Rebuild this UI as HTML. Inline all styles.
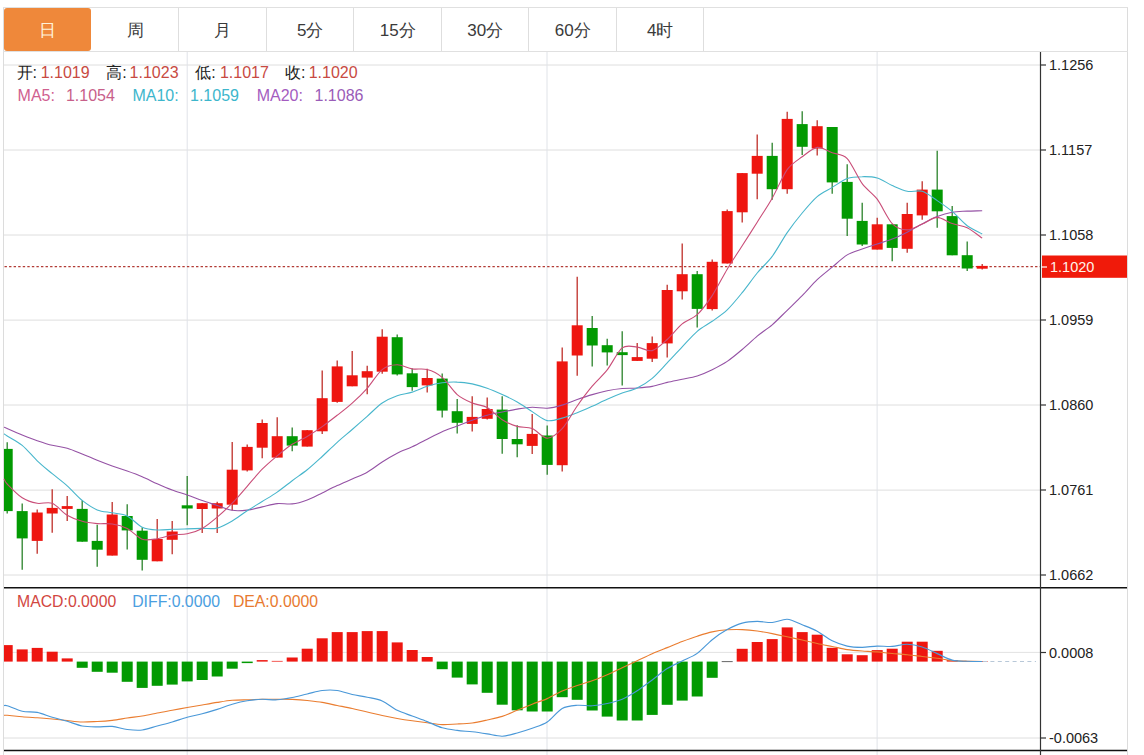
<!DOCTYPE html>
<html><head><meta charset="utf-8">
<style>
html,body{margin:0;padding:0;background:#fff;}
body{width:1144px;height:755px;position:relative;overflow:hidden;font-family:"Liberation Sans",sans-serif;}
.box{position:absolute;left:3.5px;top:7px;width:1124px;height:44px;border:1px solid #e0e0e0;box-sizing:border-box;}
.tab{position:absolute;top:9px;height:43px;line-height:43px;text-align:center;font-size:17px;color:#3a3a3a;}
.tab.act{color:#fff2d8;}
.sep{position:absolute;top:8px;width:1px;height:43px;background:#dedede;}
.vl{position:absolute;width:1px;background:#dcdcdc;}
.lg{position:absolute;font-size:16px;white-space:nowrap;line-height:16px;}
svg{position:absolute;left:0;top:0;}
</style></head><body>
<svg width="1144" height="755" viewBox="0 0 1144 755" font-family="Liberation Sans, sans-serif">
<line x1="703.5" y1="8" x2="703.5" y2="51" stroke="#dedede" stroke-width="1"/>
<line x1="616.5" y1="8" x2="616.5" y2="51" stroke="#dedede" stroke-width="1"/>
<line x1="528.5" y1="8" x2="528.5" y2="51" stroke="#dedede" stroke-width="1"/>
<line x1="441.5" y1="8" x2="441.5" y2="51" stroke="#dedede" stroke-width="1"/>
<line x1="353.5" y1="8" x2="353.5" y2="51" stroke="#dedede" stroke-width="1"/>
<line x1="266.5" y1="8" x2="266.5" y2="51" stroke="#dedede" stroke-width="1"/>
<line x1="178.5" y1="8" x2="178.5" y2="51" stroke="#dedede" stroke-width="1"/>
<rect x="4" y="8" width="87" height="43" rx="3" fill="#ef883a"/>
<line x1="1127.5" y1="7" x2="1127.5" y2="755" stroke="#dcdcdc" stroke-width="1"/>
<line x1="3.5" y1="7" x2="3.5" y2="755" stroke="#dcdcdc" stroke-width="1"/>
<line x1="3" y1="51.5" x2="1128" y2="51.5" stroke="#e0e0e0" stroke-width="1"/>
<line x1="3" y1="7.5" x2="1128" y2="7.5" stroke="#e0e0e0" stroke-width="1"/>
<line x1="4" y1="65" x2="1040" y2="65" stroke="#dedede" stroke-width="1"/>
<line x1="4" y1="150" x2="1040" y2="150" stroke="#dedede" stroke-width="1"/>
<line x1="4" y1="235" x2="1040" y2="235" stroke="#dedede" stroke-width="1"/>
<line x1="4" y1="320.1" x2="1040" y2="320.1" stroke="#dedede" stroke-width="1"/>
<line x1="4" y1="405" x2="1040" y2="405" stroke="#dedede" stroke-width="1"/>
<line x1="4" y1="490.1" x2="1040" y2="490.1" stroke="#dedede" stroke-width="1"/>
<line x1="4" y1="575" x2="1040" y2="575" stroke="#dedede" stroke-width="1"/>
<line x1="4" y1="738" x2="1040" y2="738" stroke="#dedede" stroke-width="1"/>
<line x1="4" y1="652.4" x2="1040" y2="652.4" stroke="#e2e2e2" stroke-width="1"/>
<line x1="187.2" y1="52" x2="187.2" y2="755" stroke="#e0e3e8" stroke-width="1"/>
<line x1="547" y1="52" x2="547" y2="755" stroke="#e0e3e8" stroke-width="1"/>
<line x1="877.1" y1="52" x2="877.1" y2="755" stroke="#e0e3e8" stroke-width="1"/>
<line x1="4.5" y1="266.6" x2="1040" y2="266.6" stroke="#b23c36" stroke-width="1.4" stroke-dasharray="2.4,2.16"/>
<line x1="7.2" y1="442.3" x2="7.2" y2="513.5" stroke="#2a822a" stroke-width="1.3"/>
<rect x="4.0" y="448.9" width="8.7" height="62.2" fill="#029a02"/>
<line x1="22.2" y1="503.6" x2="22.2" y2="569.8" stroke="#2a822a" stroke-width="1.3"/>
<rect x="16.7" y="511.1" width="11.0" height="27.3" fill="#029a02"/>
<line x1="37.2" y1="509.5" x2="37.2" y2="553.7" stroke="#bf2e28" stroke-width="1.3"/>
<rect x="31.7" y="512.5" width="11.0" height="28.4" fill="#ee1610"/>
<line x1="52.2" y1="489.2" x2="52.2" y2="532.8" stroke="#bf2e28" stroke-width="1.3"/>
<rect x="46.7" y="507.9" width="11.0" height="5.6" fill="#ee1610"/>
<line x1="67.2" y1="496.0" x2="67.2" y2="520.9" stroke="#bf2e28" stroke-width="1.3"/>
<rect x="61.7" y="506.1" width="11.0" height="2.8" fill="#ee1610"/>
<line x1="82.2" y1="500.2" x2="82.2" y2="541.7" stroke="#2a822a" stroke-width="1.3"/>
<rect x="76.7" y="508.9" width="11.0" height="32.8" fill="#029a02"/>
<line x1="97.2" y1="524.8" x2="97.2" y2="566.8" stroke="#2a822a" stroke-width="1.3"/>
<rect x="91.7" y="540.9" width="11.0" height="8.8" fill="#029a02"/>
<line x1="112.2" y1="502.0" x2="112.2" y2="555.6" stroke="#bf2e28" stroke-width="1.3"/>
<rect x="106.7" y="514.5" width="11.0" height="41.1" fill="#ee1610"/>
<line x1="127.2" y1="504.2" x2="127.2" y2="549.5" stroke="#2a822a" stroke-width="1.3"/>
<rect x="121.7" y="516.0" width="11.0" height="14.4" fill="#029a02"/>
<line x1="142.2" y1="527.6" x2="142.2" y2="570.5" stroke="#2a822a" stroke-width="1.3"/>
<rect x="136.7" y="530.7" width="11.0" height="29.1" fill="#029a02"/>
<line x1="157.2" y1="519.1" x2="157.2" y2="561.3" stroke="#bf2e28" stroke-width="1.3"/>
<rect x="151.7" y="539.0" width="11.0" height="22.3" fill="#ee1610"/>
<line x1="172.2" y1="520.9" x2="172.2" y2="554.3" stroke="#bf2e28" stroke-width="1.3"/>
<rect x="166.7" y="531.5" width="11.0" height="8.3" fill="#ee1610"/>
<line x1="187.2" y1="475.9" x2="187.2" y2="525.2" stroke="#2a822a" stroke-width="1.3"/>
<rect x="181.7" y="505.3" width="11.0" height="3.2" fill="#029a02"/>
<line x1="202.2" y1="503.0" x2="202.2" y2="533.1" stroke="#bf2e28" stroke-width="1.3"/>
<rect x="196.7" y="503.2" width="11.0" height="5.8" fill="#ee1610"/>
<line x1="217.2" y1="501.7" x2="217.2" y2="533.1" stroke="#bf2e28" stroke-width="1.3"/>
<rect x="211.7" y="503.2" width="11.0" height="5.3" fill="#ee1610"/>
<line x1="232.2" y1="442.1" x2="232.2" y2="510.5" stroke="#bf2e28" stroke-width="1.3"/>
<rect x="226.7" y="469.7" width="11.0" height="35.0" fill="#ee1610"/>
<line x1="247.2" y1="444.5" x2="247.2" y2="471.5" stroke="#bf2e28" stroke-width="1.3"/>
<rect x="241.7" y="446.9" width="11.0" height="23.5" fill="#ee1610"/>
<line x1="262.2" y1="419.4" x2="262.2" y2="458.3" stroke="#bf2e28" stroke-width="1.3"/>
<rect x="256.7" y="423.0" width="11.0" height="24.7" fill="#ee1610"/>
<line x1="277.2" y1="417.2" x2="277.2" y2="457.6" stroke="#bf2e28" stroke-width="1.3"/>
<rect x="271.7" y="436.2" width="11.0" height="21.4" fill="#ee1610"/>
<line x1="292.2" y1="427.5" x2="292.2" y2="451.2" stroke="#2a822a" stroke-width="1.3"/>
<rect x="286.7" y="436.2" width="11.0" height="9.4" fill="#029a02"/>
<line x1="307.2" y1="430.0" x2="307.2" y2="446.6" stroke="#bf2e28" stroke-width="1.3"/>
<rect x="301.7" y="430.2" width="11.0" height="16.4" fill="#ee1610"/>
<line x1="322.2" y1="370.6" x2="322.2" y2="434.1" stroke="#bf2e28" stroke-width="1.3"/>
<rect x="316.7" y="398.2" width="11.0" height="33.1" fill="#ee1610"/>
<line x1="337.2" y1="360.5" x2="337.2" y2="402.7" stroke="#bf2e28" stroke-width="1.3"/>
<rect x="331.7" y="366.4" width="11.0" height="35.5" fill="#ee1610"/>
<line x1="352.2" y1="351.0" x2="352.2" y2="386.3" stroke="#bf2e28" stroke-width="1.3"/>
<rect x="346.7" y="375.3" width="11.0" height="11.0" fill="#ee1610"/>
<line x1="367.2" y1="365.8" x2="367.2" y2="394.2" stroke="#bf2e28" stroke-width="1.3"/>
<rect x="361.7" y="371.2" width="11.0" height="6.4" fill="#ee1610"/>
<line x1="382.2" y1="329.2" x2="382.2" y2="373.7" stroke="#bf2e28" stroke-width="1.3"/>
<rect x="376.7" y="336.7" width="11.0" height="35.0" fill="#ee1610"/>
<line x1="397.2" y1="334.6" x2="397.2" y2="375.6" stroke="#2a822a" stroke-width="1.3"/>
<rect x="391.7" y="337.2" width="11.0" height="37.2" fill="#029a02"/>
<line x1="412.2" y1="368.5" x2="412.2" y2="390.7" stroke="#2a822a" stroke-width="1.3"/>
<rect x="406.7" y="373.3" width="11.0" height="13.8" fill="#029a02"/>
<line x1="427.2" y1="368.7" x2="427.2" y2="392.6" stroke="#bf2e28" stroke-width="1.3"/>
<rect x="421.7" y="378.0" width="11.0" height="7.4" fill="#ee1610"/>
<line x1="442.2" y1="373.5" x2="442.2" y2="417.6" stroke="#2a822a" stroke-width="1.3"/>
<rect x="436.7" y="378.6" width="11.0" height="32.0" fill="#029a02"/>
<line x1="457.2" y1="399.0" x2="457.2" y2="433.4" stroke="#2a822a" stroke-width="1.3"/>
<rect x="451.7" y="411.2" width="11.0" height="11.6" fill="#029a02"/>
<line x1="472.2" y1="396.2" x2="472.2" y2="431.5" stroke="#bf2e28" stroke-width="1.3"/>
<rect x="466.7" y="416.9" width="11.0" height="7.0" fill="#ee1610"/>
<line x1="487.2" y1="397.4" x2="487.2" y2="419.6" stroke="#bf2e28" stroke-width="1.3"/>
<rect x="481.7" y="409.0" width="11.0" height="9.8" fill="#ee1610"/>
<line x1="502.2" y1="396.2" x2="502.2" y2="453.8" stroke="#2a822a" stroke-width="1.3"/>
<rect x="496.7" y="409.6" width="11.0" height="29.4" fill="#029a02"/>
<line x1="517.2" y1="425.2" x2="517.2" y2="457.3" stroke="#2a822a" stroke-width="1.3"/>
<rect x="511.7" y="439.0" width="11.0" height="5.3" fill="#029a02"/>
<line x1="532.2" y1="414.0" x2="532.2" y2="454.1" stroke="#bf2e28" stroke-width="1.3"/>
<rect x="526.7" y="433.9" width="11.0" height="12.0" fill="#ee1610"/>
<line x1="547.2" y1="425.5" x2="547.2" y2="474.8" stroke="#2a822a" stroke-width="1.3"/>
<rect x="541.7" y="435.5" width="11.0" height="29.4" fill="#029a02"/>
<line x1="562.2" y1="347.6" x2="562.2" y2="471.6" stroke="#bf2e28" stroke-width="1.3"/>
<rect x="556.7" y="361.4" width="11.0" height="103.8" fill="#ee1610"/>
<line x1="577.2" y1="276.7" x2="577.2" y2="375.7" stroke="#bf2e28" stroke-width="1.3"/>
<rect x="571.7" y="325.3" width="11.0" height="30.2" fill="#ee1610"/>
<line x1="592.2" y1="316.1" x2="592.2" y2="366.5" stroke="#2a822a" stroke-width="1.3"/>
<rect x="586.7" y="328.0" width="11.0" height="17.5" fill="#029a02"/>
<line x1="607.2" y1="338.8" x2="607.2" y2="365.4" stroke="#2a822a" stroke-width="1.3"/>
<rect x="601.7" y="345.2" width="11.0" height="7.2" fill="#029a02"/>
<line x1="622.2" y1="331.2" x2="622.2" y2="385.6" stroke="#2a822a" stroke-width="1.3"/>
<rect x="616.7" y="352.2" width="11.0" height="2.9" fill="#029a02"/>
<line x1="637.2" y1="343.1" x2="637.2" y2="360.9" stroke="#bf2e28" stroke-width="1.3"/>
<rect x="631.7" y="357.1" width="11.0" height="3.8" fill="#ee1610"/>
<line x1="652.2" y1="336.5" x2="652.2" y2="361.9" stroke="#bf2e28" stroke-width="1.3"/>
<rect x="646.7" y="343.1" width="11.0" height="15.6" fill="#ee1610"/>
<line x1="667.2" y1="284.8" x2="667.2" y2="357.4" stroke="#bf2e28" stroke-width="1.3"/>
<rect x="661.7" y="290.0" width="11.0" height="53.4" fill="#ee1610"/>
<line x1="682.2" y1="243.6" x2="682.2" y2="299.6" stroke="#bf2e28" stroke-width="1.3"/>
<rect x="676.7" y="274.2" width="11.0" height="17.1" fill="#ee1610"/>
<line x1="697.2" y1="270.9" x2="697.2" y2="327.6" stroke="#2a822a" stroke-width="1.3"/>
<rect x="691.7" y="274.2" width="11.0" height="34.7" fill="#029a02"/>
<line x1="712.2" y1="259.4" x2="712.2" y2="310.4" stroke="#bf2e28" stroke-width="1.3"/>
<rect x="706.7" y="261.8" width="11.0" height="47.3" fill="#ee1610"/>
<line x1="727.2" y1="209.6" x2="727.2" y2="263.5" stroke="#bf2e28" stroke-width="1.3"/>
<rect x="721.7" y="211.1" width="11.0" height="52.4" fill="#ee1610"/>
<line x1="742.2" y1="173.0" x2="742.2" y2="222.4" stroke="#bf2e28" stroke-width="1.3"/>
<rect x="736.7" y="173.1" width="11.0" height="39.2" fill="#ee1610"/>
<line x1="757.2" y1="134.4" x2="757.2" y2="199.3" stroke="#bf2e28" stroke-width="1.3"/>
<rect x="751.7" y="155.9" width="11.0" height="17.8" fill="#ee1610"/>
<line x1="772.2" y1="142.7" x2="772.2" y2="199.8" stroke="#2a822a" stroke-width="1.3"/>
<rect x="766.7" y="155.9" width="11.0" height="33.3" fill="#029a02"/>
<line x1="787.2" y1="111.7" x2="787.2" y2="193.8" stroke="#bf2e28" stroke-width="1.3"/>
<rect x="781.7" y="118.9" width="11.0" height="70.3" fill="#ee1610"/>
<line x1="802.2" y1="111.2" x2="802.2" y2="155.1" stroke="#2a822a" stroke-width="1.3"/>
<rect x="796.7" y="124.1" width="11.0" height="22.7" fill="#029a02"/>
<line x1="817.2" y1="120.3" x2="817.2" y2="155.4" stroke="#bf2e28" stroke-width="1.3"/>
<rect x="811.7" y="126.2" width="11.0" height="22.3" fill="#ee1610"/>
<line x1="832.2" y1="127.0" x2="832.2" y2="193.8" stroke="#2a822a" stroke-width="1.3"/>
<rect x="826.7" y="127.0" width="11.0" height="55.4" fill="#029a02"/>
<line x1="847.2" y1="164.3" x2="847.2" y2="236.0" stroke="#2a822a" stroke-width="1.3"/>
<rect x="841.7" y="181.9" width="11.0" height="36.8" fill="#029a02"/>
<line x1="862.2" y1="202.8" x2="862.2" y2="245.9" stroke="#2a822a" stroke-width="1.3"/>
<rect x="856.7" y="220.9" width="11.0" height="23.6" fill="#029a02"/>
<line x1="877.2" y1="217.8" x2="877.2" y2="249.6" stroke="#bf2e28" stroke-width="1.3"/>
<rect x="871.7" y="224.3" width="11.0" height="25.3" fill="#ee1610"/>
<line x1="892.2" y1="224.3" x2="892.2" y2="261.3" stroke="#2a822a" stroke-width="1.3"/>
<rect x="886.7" y="224.3" width="11.0" height="23.6" fill="#029a02"/>
<line x1="907.2" y1="202.8" x2="907.2" y2="252.7" stroke="#bf2e28" stroke-width="1.3"/>
<rect x="901.7" y="214.0" width="11.0" height="34.8" fill="#ee1610"/>
<line x1="922.2" y1="181.3" x2="922.2" y2="219.7" stroke="#bf2e28" stroke-width="1.3"/>
<rect x="916.7" y="189.6" width="11.0" height="25.8" fill="#ee1610"/>
<line x1="937.2" y1="150.7" x2="937.2" y2="227.8" stroke="#2a822a" stroke-width="1.3"/>
<rect x="931.7" y="189.6" width="11.0" height="21.7" fill="#029a02"/>
<line x1="952.2" y1="205.9" x2="952.2" y2="255.3" stroke="#2a822a" stroke-width="1.3"/>
<rect x="946.7" y="216.1" width="11.0" height="39.2" fill="#029a02"/>
<line x1="967.2" y1="241.4" x2="967.2" y2="271.1" stroke="#2a822a" stroke-width="1.3"/>
<rect x="961.7" y="255.2" width="11.0" height="13.3" fill="#029a02"/>
<line x1="982.2" y1="263.9" x2="982.2" y2="269.6" stroke="#bf2e28" stroke-width="1.3"/>
<rect x="976.7" y="265.9" width="11.0" height="2.8" fill="#ee1610"/>
<path d="M4.0,427.2 C4.5,427.4 4.5,427.3 7.2,428.5 C9.9,429.7 17.7,433.2 22.2,435.0 C26.7,436.8 32.7,439.2 37.2,440.7 C41.7,442.2 47.7,444.2 52.2,445.3 C56.7,446.4 62.7,446.9 67.2,448.2 C71.7,449.5 77.7,452.1 82.2,453.9 C86.7,455.7 92.7,458.5 97.2,460.3 C101.7,462.1 107.7,464.4 112.2,466.0 C116.7,467.6 122.7,469.5 127.2,471.1 C131.7,472.7 137.7,474.9 142.2,476.8 C146.7,478.7 152.7,481.8 157.2,483.8 C161.7,485.8 167.7,488.4 172.2,490.1 C176.7,491.8 182.7,493.4 187.2,495.0 C191.7,496.6 197.7,499.0 202.2,500.6 C206.7,502.2 212.7,504.0 217.2,505.5 C221.7,507.0 227.7,509.6 232.2,510.3 C236.7,511.0 242.7,510.6 247.2,510.1 C251.7,509.6 257.7,507.9 262.2,506.9 C266.7,505.9 272.7,504.0 277.2,503.6 C281.7,503.2 287.7,504.5 292.2,503.9 C296.7,503.4 302.7,501.6 307.2,499.9 C311.7,498.2 317.7,495.0 322.2,492.9 C326.7,490.7 332.7,487.7 337.2,485.6 C341.7,483.5 347.7,481.0 352.2,479.0 C356.7,476.9 362.7,474.8 367.2,472.2 C371.7,469.7 377.7,464.8 382.2,462.0 C386.7,459.1 392.7,455.5 397.2,453.2 C401.7,450.9 407.7,448.9 412.2,446.8 C416.7,444.7 422.7,441.5 427.2,439.2 C431.7,436.9 437.7,433.7 442.2,431.7 C446.7,429.8 452.7,427.7 457.2,425.9 C461.7,424.2 467.7,421.8 472.2,420.2 C476.7,418.6 482.7,416.5 487.2,415.2 C491.7,414.0 497.7,412.9 502.2,412.0 C506.7,411.1 512.7,409.8 517.2,409.1 C521.7,408.4 527.7,407.4 532.2,407.3 C536.7,407.2 542.7,408.5 547.2,408.2 C551.7,407.9 557.7,406.4 562.2,405.1 C566.7,403.8 572.7,401.1 577.2,399.6 C581.7,398.0 587.7,395.9 592.2,394.6 C596.7,393.2 602.7,391.6 607.2,390.7 C611.7,389.8 617.7,388.9 622.2,388.5 C626.7,388.1 632.7,388.4 637.2,388.0 C641.7,387.7 647.7,387.3 652.2,386.4 C656.7,385.6 662.7,383.5 667.2,382.4 C671.7,381.3 677.7,380.2 682.2,379.2 C686.7,378.3 692.7,377.4 697.2,376.0 C701.7,374.5 707.7,371.9 712.2,369.7 C716.7,367.5 722.7,364.4 727.2,361.4 C731.7,358.3 737.7,353.3 742.2,349.5 C746.7,345.7 752.7,339.9 757.2,336.1 C761.7,332.4 767.7,328.6 772.2,324.8 C776.7,320.9 782.7,314.6 787.2,310.3 C791.7,305.9 797.7,300.2 802.2,295.6 C806.7,291.1 812.7,284.0 817.2,279.7 C821.7,275.5 827.7,270.9 832.2,267.2 C836.7,263.4 842.7,257.6 847.2,254.9 C851.7,252.1 857.7,250.6 862.2,249.0 C866.7,247.4 872.7,245.4 877.2,244.0 C881.7,242.5 887.7,240.9 892.2,239.1 C896.7,237.3 902.7,234.4 907.2,232.2 C911.7,229.9 917.7,226.2 922.2,223.9 C926.7,221.6 932.7,218.3 937.2,216.6 C941.7,214.8 947.7,213.0 952.2,212.2 C956.7,211.4 962.7,211.4 967.2,211.1 C971.7,210.9 980.0,210.8 982.2,210.7" fill="none" stroke="#9552a5" stroke-width="1.1"/>
<path d="M4.0,433.8 C4.5,434.1 4.5,434.3 7.2,436.0 C9.9,437.7 17.7,441.6 22.2,445.3 C26.7,449.0 32.7,456.5 37.2,460.8 C41.7,465.1 47.7,469.9 52.2,473.7 C56.7,477.4 62.7,481.8 67.2,485.8 C71.7,489.8 77.7,496.8 82.2,500.4 C86.7,504.0 92.7,508.0 97.2,509.9 C101.7,511.8 107.7,511.9 112.2,512.8 C116.7,513.7 122.7,513.7 127.2,515.9 C131.7,518.1 137.7,525.1 142.2,527.2 C146.7,529.3 152.7,529.7 157.2,530.0 C161.7,530.3 167.7,529.5 172.2,529.3 C176.7,529.1 182.7,529.0 187.2,528.9 C191.7,528.8 197.7,528.6 202.2,528.4 C206.7,528.3 212.7,529.3 217.2,528.1 C221.7,527.0 227.7,523.6 232.2,521.0 C236.7,518.3 242.7,513.6 247.2,510.7 C251.7,507.8 257.7,504.3 262.2,501.5 C266.7,498.7 272.7,495.2 277.2,492.1 C281.7,489.0 287.7,484.0 292.2,480.7 C296.7,477.3 302.7,473.4 307.2,469.8 C311.7,466.2 317.7,460.6 322.2,456.5 C326.7,452.3 332.7,446.3 337.2,442.3 C341.7,438.2 347.7,433.4 352.2,429.5 C356.7,425.6 362.7,420.2 367.2,416.3 C371.7,412.3 377.7,406.1 382.2,403.0 C386.7,399.9 392.7,397.3 397.2,395.7 C401.7,394.1 407.7,393.5 412.2,392.1 C416.7,390.7 422.7,387.7 427.2,386.3 C431.7,384.9 437.7,383.4 442.2,382.8 C446.7,382.2 452.7,381.9 457.2,382.1 C461.7,382.2 467.7,383.0 472.2,383.9 C476.7,384.9 482.7,386.6 487.2,388.2 C491.7,389.8 497.7,392.5 502.2,394.6 C506.7,396.6 512.7,399.3 517.2,401.9 C521.7,404.4 527.7,408.8 532.2,411.6 C536.7,414.4 542.7,419.7 547.2,420.6 C551.7,421.6 557.7,419.3 562.2,418.1 C566.7,416.9 572.7,414.6 577.2,412.8 C581.7,411.0 587.7,408.3 592.2,406.3 C596.7,404.3 602.7,401.2 607.2,399.3 C611.7,397.3 617.7,394.8 622.2,393.1 C626.7,391.4 632.7,390.1 637.2,387.9 C641.7,385.7 647.7,382.1 652.2,378.3 C656.7,374.5 662.7,367.6 667.2,362.9 C671.7,358.2 677.7,351.6 682.2,346.9 C686.7,342.2 692.7,335.1 697.2,331.3 C701.7,327.5 707.7,324.5 712.2,321.3 C716.7,318.1 722.7,314.2 727.2,309.9 C731.7,305.6 737.7,298.2 742.2,292.7 C746.7,287.1 752.7,278.5 757.2,273.0 C761.7,267.6 767.7,262.5 772.2,256.4 C776.7,250.4 782.7,239.1 787.2,232.6 C791.7,226.1 797.7,218.4 802.2,213.0 C806.7,207.6 812.7,200.4 817.2,196.6 C821.7,192.8 827.7,190.2 832.2,187.4 C836.7,184.7 842.7,180.0 847.2,178.4 C851.7,176.8 857.7,176.7 862.2,176.7 C866.7,176.6 872.7,176.7 877.2,178.0 C881.7,179.3 887.7,183.5 892.2,185.5 C896.7,187.5 902.7,190.4 907.2,191.3 C911.7,192.2 917.7,189.9 922.2,191.3 C926.7,192.7 932.7,197.6 937.2,200.6 C941.7,203.6 947.7,207.7 952.2,211.4 C956.7,215.2 962.7,222.3 967.2,225.7 C971.7,229.0 980.0,232.7 982.2,234.0" fill="none" stroke="#48b6cc" stroke-width="1.1"/>
<path d="M4.0,478.9 C4.5,479.7 4.5,481.2 7.2,484.0 C9.9,486.8 17.7,494.9 22.2,497.8 C26.7,500.7 32.7,502.5 37.2,503.3 C41.7,504.1 47.7,501.5 52.2,503.3 C56.7,505.1 62.7,512.5 67.2,515.2 C71.7,517.9 77.7,520.1 82.2,521.3 C86.7,522.6 92.7,523.2 97.2,523.6 C101.7,524.0 107.7,523.2 112.2,524.0 C116.7,524.7 122.7,526.2 127.2,528.5 C131.7,530.8 137.7,537.7 142.2,539.2 C146.7,540.8 152.7,539.3 157.2,538.7 C161.7,538.1 167.7,535.8 172.2,535.0 C176.7,534.3 182.7,534.8 187.2,533.8 C191.7,532.8 197.7,530.9 202.2,528.4 C206.7,525.9 212.7,520.9 217.2,517.1 C221.7,513.3 227.7,507.8 232.2,503.2 C236.7,498.6 242.7,491.4 247.2,486.3 C251.7,481.2 257.7,473.8 262.2,469.2 C266.7,464.6 272.7,459.5 277.2,455.8 C281.7,452.1 287.7,447.2 292.2,444.3 C296.7,441.4 302.7,439.0 307.2,436.4 C311.7,433.7 317.7,429.8 322.2,426.6 C326.7,423.5 332.7,418.8 337.2,415.3 C341.7,411.8 347.7,407.2 352.2,403.1 C356.7,399.1 362.7,393.3 367.2,388.3 C371.7,383.2 377.7,373.1 382.2,369.6 C386.7,366.0 392.7,364.9 397.2,364.8 C401.7,364.7 407.7,368.2 412.2,368.9 C416.7,369.6 422.7,368.2 427.2,369.5 C431.7,370.7 437.7,373.6 442.2,377.4 C446.7,381.1 452.7,390.7 457.2,394.6 C461.7,398.4 467.7,401.1 472.2,403.1 C476.7,405.0 482.7,405.0 487.2,407.5 C491.7,409.9 497.7,416.8 502.2,419.7 C506.7,422.5 512.7,425.1 517.2,426.4 C521.7,427.7 527.7,426.8 532.2,428.6 C536.7,430.4 542.7,438.2 547.2,438.2 C551.7,438.2 557.7,433.5 562.2,428.7 C566.7,423.9 572.7,412.3 577.2,406.0 C581.7,399.6 587.7,391.6 592.2,386.2 C596.7,380.8 602.7,375.6 607.2,369.9 C611.7,364.2 617.7,351.4 622.2,347.9 C626.7,344.5 632.7,346.7 637.2,347.1 C641.7,347.5 647.7,351.8 652.2,350.6 C656.7,349.5 662.7,343.6 667.2,339.5 C671.7,335.5 677.7,327.6 682.2,323.9 C686.7,320.2 692.7,318.9 697.2,314.7 C701.7,310.4 707.7,302.4 712.2,295.6 C716.7,288.8 722.7,276.7 727.2,269.2 C731.7,261.7 737.7,252.9 742.2,245.8 C746.7,238.8 752.7,229.3 757.2,222.2 C761.7,215.0 767.7,206.1 772.2,198.2 C776.7,190.3 782.7,175.9 787.2,169.6 C791.7,163.4 797.7,160.1 802.2,156.8 C806.7,153.4 812.7,148.0 817.2,147.4 C821.7,146.8 827.7,151.0 832.2,152.7 C836.7,154.4 842.7,153.9 847.2,158.6 C851.7,163.3 857.7,177.6 862.2,183.7 C866.7,189.8 872.7,193.2 877.2,199.2 C881.7,205.2 887.7,219.0 892.2,223.6 C896.7,228.2 902.7,229.8 907.2,229.9 C911.7,230.0 917.7,225.9 922.2,224.1 C926.7,222.2 932.7,217.5 937.2,217.4 C941.7,217.4 947.7,222.1 952.2,223.6 C956.7,225.2 962.7,225.6 967.2,227.7 C971.7,229.9 980.0,236.6 982.2,238.1" fill="none" stroke="#c94d78" stroke-width="1.1"/>
<rect x="4.0" y="645.1" width="8.7" height="16.5" fill="#ee1610"/>
<rect x="16.7" y="649.4" width="11.0" height="12.2" fill="#ee1610"/>
<rect x="31.7" y="647.9" width="11.0" height="13.7" fill="#ee1610"/>
<rect x="46.7" y="651.7" width="11.0" height="9.9" fill="#ee1610"/>
<rect x="61.7" y="658.4" width="11.0" height="3.2" fill="#ee1610"/>
<rect x="76.7" y="661.6" width="11.0" height="6.2" fill="#029a02"/>
<rect x="91.7" y="661.6" width="11.0" height="10.2" fill="#029a02"/>
<rect x="106.7" y="661.6" width="11.0" height="11.1" fill="#029a02"/>
<rect x="121.7" y="661.6" width="11.0" height="20.2" fill="#029a02"/>
<rect x="136.7" y="661.6" width="11.0" height="26.3" fill="#029a02"/>
<rect x="151.7" y="661.6" width="11.0" height="24.2" fill="#029a02"/>
<rect x="166.7" y="661.6" width="11.0" height="23.0" fill="#029a02"/>
<rect x="181.7" y="661.6" width="11.0" height="19.8" fill="#029a02"/>
<rect x="196.7" y="661.6" width="11.0" height="18.4" fill="#029a02"/>
<rect x="211.7" y="661.6" width="11.0" height="14.9" fill="#029a02"/>
<rect x="226.7" y="661.6" width="11.0" height="7.1" fill="#029a02"/>
<rect x="241.7" y="661.6" width="11.0" height="1.5" fill="#029a02"/>
<rect x="256.7" y="660.1" width="11.0" height="1.5" fill="#ee1610"/>
<rect x="271.7" y="660.9" width="11.0" height="0.7" fill="#ee1610"/>
<rect x="286.7" y="657.5" width="11.0" height="4.1" fill="#ee1610"/>
<rect x="301.7" y="648.7" width="11.0" height="12.9" fill="#ee1610"/>
<rect x="316.7" y="638.3" width="11.0" height="23.3" fill="#ee1610"/>
<rect x="331.7" y="632.1" width="11.0" height="29.5" fill="#ee1610"/>
<rect x="346.7" y="632.1" width="11.0" height="29.5" fill="#ee1610"/>
<rect x="361.7" y="631.1" width="11.0" height="30.5" fill="#ee1610"/>
<rect x="376.7" y="631.1" width="11.0" height="30.5" fill="#ee1610"/>
<rect x="391.7" y="642.4" width="11.0" height="19.2" fill="#ee1610"/>
<rect x="406.7" y="650.0" width="11.0" height="11.6" fill="#ee1610"/>
<rect x="421.7" y="657.0" width="11.0" height="4.6" fill="#ee1610"/>
<rect x="436.7" y="661.6" width="11.0" height="7.6" fill="#029a02"/>
<rect x="451.7" y="661.6" width="11.0" height="16.0" fill="#029a02"/>
<rect x="466.7" y="661.6" width="11.0" height="22.8" fill="#029a02"/>
<rect x="481.7" y="661.6" width="11.0" height="31.2" fill="#029a02"/>
<rect x="496.7" y="661.6" width="11.0" height="43.1" fill="#029a02"/>
<rect x="511.7" y="661.6" width="11.0" height="48.7" fill="#029a02"/>
<rect x="526.7" y="661.6" width="11.0" height="49.9" fill="#029a02"/>
<rect x="541.7" y="661.6" width="11.0" height="49.9" fill="#029a02"/>
<rect x="556.7" y="661.6" width="11.0" height="35.6" fill="#029a02"/>
<rect x="571.7" y="661.6" width="11.0" height="38.2" fill="#029a02"/>
<rect x="586.7" y="661.6" width="11.0" height="48.9" fill="#029a02"/>
<rect x="601.7" y="661.6" width="11.0" height="55.0" fill="#029a02"/>
<rect x="616.7" y="661.6" width="11.0" height="58.9" fill="#029a02"/>
<rect x="631.7" y="661.6" width="11.0" height="58.9" fill="#029a02"/>
<rect x="646.7" y="661.6" width="11.0" height="53.3" fill="#029a02"/>
<rect x="661.7" y="661.6" width="11.0" height="43.2" fill="#029a02"/>
<rect x="676.7" y="661.6" width="11.0" height="39.0" fill="#029a02"/>
<rect x="691.7" y="661.6" width="11.0" height="34.9" fill="#029a02"/>
<rect x="706.7" y="661.6" width="11.0" height="16.2" fill="#029a02"/>
<rect x="721.7" y="661.1" width="11.0" height="1" fill="#666"/>
<rect x="736.7" y="648.8" width="11.0" height="12.8" fill="#ee1610"/>
<rect x="751.7" y="642.0" width="11.0" height="19.6" fill="#ee1610"/>
<rect x="766.7" y="639.1" width="11.0" height="22.5" fill="#ee1610"/>
<rect x="781.7" y="627.4" width="11.0" height="34.2" fill="#ee1610"/>
<rect x="796.7" y="632.1" width="11.0" height="29.5" fill="#ee1610"/>
<rect x="811.7" y="634.7" width="11.0" height="26.9" fill="#ee1610"/>
<rect x="826.7" y="647.8" width="11.0" height="13.8" fill="#ee1610"/>
<rect x="841.7" y="654.3" width="11.0" height="7.3" fill="#ee1610"/>
<rect x="856.7" y="655.2" width="11.0" height="6.4" fill="#ee1610"/>
<rect x="871.7" y="650.1" width="11.0" height="11.5" fill="#ee1610"/>
<rect x="886.7" y="648.7" width="11.0" height="12.9" fill="#ee1610"/>
<rect x="901.7" y="641.7" width="11.0" height="19.9" fill="#ee1610"/>
<rect x="916.7" y="641.7" width="11.0" height="19.9" fill="#ee1610"/>
<rect x="931.7" y="650.8" width="11.0" height="10.8" fill="#ee1610"/>
<rect x="946.7" y="660.0" width="11.0" height="1.6" fill="#ee1610"/>
<rect x="961.7" y="661.0" width="11.0" height="0.6" fill="#ee1610"/>
<rect x="976.7" y="661.0" width="11.0" height="0.6" fill="#ee1610"/>
<path d="M4.0,715.3 C4.5,715.3 4.5,715.1 7.2,715.3 C9.9,715.5 17.7,716.4 22.2,716.8 C26.7,717.2 32.7,717.5 37.2,717.8 C41.7,718.1 47.7,718.6 52.2,719.0 C56.7,719.4 62.7,720.0 67.2,720.5 C71.7,721.0 77.7,721.9 82.2,722.0 C86.7,722.1 92.7,721.7 97.2,721.5 C101.7,721.3 107.7,720.9 112.2,720.4 C116.7,719.9 122.7,718.7 127.2,718.0 C131.7,717.3 137.7,716.8 142.2,716.0 C146.7,715.2 152.7,713.9 157.2,713.0 C161.7,712.1 167.7,711.1 172.2,710.3 C176.7,709.5 182.7,708.3 187.2,707.5 C191.7,706.7 197.7,705.8 202.2,705.0 C206.7,704.2 212.7,703.1 217.2,702.4 C221.7,701.7 227.7,700.7 232.2,700.3 C236.7,699.9 242.7,699.9 247.2,699.8 C251.7,699.6 257.7,699.4 262.2,699.3 C266.7,699.2 272.7,699.3 277.2,699.3 C281.7,699.3 287.7,699.2 292.2,699.4 C296.7,699.6 302.7,700.0 307.2,700.5 C311.7,701.0 317.7,701.6 322.2,702.4 C326.7,703.1 332.7,704.6 337.2,705.5 C341.7,706.4 347.7,707.5 352.2,708.5 C356.7,709.5 362.7,711.0 367.2,712.0 C371.7,713.0 377.7,714.5 382.2,715.5 C386.7,716.5 392.7,717.7 397.2,718.5 C401.7,719.3 407.7,720.2 412.2,720.8 C416.7,721.4 422.7,722.2 427.2,722.8 C431.7,723.4 437.7,724.4 442.2,724.6 C446.7,724.8 452.7,724.2 457.2,724.0 C461.7,723.8 467.7,723.6 472.2,723.0 C476.7,722.4 482.7,721.0 487.2,720.0 C491.7,719.0 497.7,717.9 502.2,716.4 C506.7,714.9 512.7,712.1 517.2,710.3 C521.7,708.5 527.7,706.0 532.2,704.2 C536.7,702.4 542.7,700.6 547.2,698.6 C551.7,696.6 557.7,693.0 562.2,691.0 C566.7,689.0 572.7,687.0 577.2,685.5 C581.7,684.0 587.7,682.4 592.2,680.8 C596.7,679.2 602.7,676.7 607.2,674.7 C611.7,672.7 617.7,669.8 622.2,667.7 C626.7,665.6 632.7,662.8 637.2,660.7 C641.7,658.6 647.7,655.7 652.2,653.7 C656.7,651.7 662.7,649.4 667.2,647.6 C671.7,645.8 677.7,643.2 682.2,641.5 C686.7,639.8 692.7,637.6 697.2,636.2 C701.7,634.8 707.7,632.9 712.2,631.9 C716.7,630.9 722.7,630.1 727.2,629.8 C731.7,629.5 737.7,629.4 742.2,629.6 C746.7,629.8 752.7,630.4 757.2,631.0 C761.7,631.6 767.7,632.7 772.2,633.6 C776.7,634.5 782.7,635.8 787.2,636.8 C791.7,637.8 797.7,639.0 802.2,640.0 C806.7,641.0 812.7,642.5 817.2,643.5 C821.7,644.5 827.7,645.6 832.2,646.5 C836.7,647.4 842.7,648.9 847.2,649.6 C851.7,650.3 857.7,650.7 862.2,651.0 C866.7,651.3 872.7,651.5 877.2,651.9 C881.7,652.3 887.7,653.1 892.2,653.5 C896.7,653.9 902.7,654.3 907.2,654.8 C911.7,655.2 917.7,656.0 922.2,656.5 C926.7,657.0 932.7,657.7 937.2,658.3 C941.7,658.9 947.7,660.2 952.2,660.6 C956.7,661.0 962.7,661.1 967.2,661.2 C971.7,661.3 980.0,661.5 982.2,661.5" fill="none" stroke="#ea7d30" stroke-width="1.15"/>
<path d="M4.0,705.6 C4.5,705.6 4.5,705.0 7.2,705.8 C9.9,706.6 17.7,710.2 22.2,711.2 C26.7,712.2 32.7,711.5 37.2,712.4 C41.7,713.3 47.7,716.0 52.2,717.3 C56.7,718.6 62.7,720.0 67.2,721.3 C71.7,722.6 77.7,725.2 82.2,726.0 C86.7,726.8 92.7,726.8 97.2,726.9 C101.7,727.0 107.7,726.0 112.2,726.4 C116.7,726.8 122.7,729.0 127.2,729.5 C131.7,730.0 137.7,730.5 142.2,730.0 C146.7,729.5 152.7,727.2 157.2,726.0 C161.7,724.8 167.7,723.3 172.2,722.0 C176.7,720.7 182.7,718.5 187.2,717.3 C191.7,716.1 197.7,715.0 202.2,713.8 C206.7,712.6 212.7,710.8 217.2,709.4 C221.7,708.0 227.7,705.5 232.2,704.2 C236.7,702.9 242.7,701.4 247.2,700.7 C251.7,700.0 257.7,699.4 262.2,699.3 C266.7,699.2 272.7,700.1 277.2,699.8 C281.7,699.5 287.7,698.4 292.2,697.5 C296.7,696.6 302.7,695.0 307.2,694.0 C311.7,693.0 317.7,691.0 322.2,690.5 C326.7,690.0 332.7,689.9 337.2,690.5 C341.7,691.1 347.7,693.5 352.2,694.5 C356.7,695.5 362.7,696.2 367.2,697.2 C371.7,698.2 377.7,699.0 382.2,701.0 C386.7,703.0 392.7,708.0 397.2,710.3 C401.7,712.5 407.7,714.3 412.2,716.0 C416.7,717.7 422.7,719.8 427.2,721.6 C431.7,723.4 437.7,726.5 442.2,727.8 C446.7,729.1 452.7,729.8 457.2,730.4 C461.7,731.0 467.7,731.3 472.2,731.8 C476.7,732.3 482.7,733.2 487.2,733.9 C491.7,734.6 497.7,736.3 502.2,736.2 C506.7,736.1 512.7,734.2 517.2,733.0 C521.7,731.8 527.7,729.9 532.2,728.3 C536.7,726.6 542.7,725.0 547.2,722.0 C551.7,719.0 557.7,711.0 562.2,708.5 C566.7,706.0 572.7,705.7 577.2,705.3 C581.7,704.9 587.7,706.1 592.2,705.8 C596.7,705.5 602.7,704.5 607.2,703.5 C611.7,702.5 617.7,701.1 622.2,699.2 C626.7,697.3 632.7,693.7 637.2,690.8 C641.7,687.9 647.7,683.3 652.2,680.0 C656.7,676.7 662.7,671.5 667.2,668.6 C671.7,665.8 677.7,663.3 682.2,661.0 C686.7,658.7 692.7,656.6 697.2,653.4 C701.7,650.2 707.7,643.3 712.2,639.7 C716.7,636.1 722.7,632.1 727.2,629.6 C731.7,627.1 737.7,624.3 742.2,623.1 C746.7,621.9 752.7,621.5 757.2,621.4 C761.7,621.3 767.7,622.8 772.2,622.5 C776.7,622.2 782.7,619.0 787.2,619.3 C791.7,619.6 797.7,623.0 802.2,624.8 C806.7,626.6 812.7,628.8 817.2,631.2 C821.7,633.6 827.7,638.6 832.2,640.8 C836.7,643.0 842.7,645.1 847.2,646.1 C851.7,647.1 857.7,647.3 862.2,647.3 C866.7,647.3 872.7,646.2 877.2,646.1 C881.7,646.0 887.7,646.7 892.2,646.4 C896.7,646.1 902.7,644.2 907.2,644.3 C911.7,644.4 917.7,645.6 922.2,647.0 C926.7,648.4 932.7,651.6 937.2,653.6 C941.7,655.6 947.7,658.9 952.2,660.1 C956.7,661.3 962.7,661.1 967.2,661.3 C971.7,661.5 980.0,661.5 982.2,661.5" fill="none" stroke="#4a98d8" stroke-width="1.15"/>
<line x1="983" y1="661.5" x2="1036" y2="661.5" stroke="#b8c8d8" stroke-width="1" stroke-dasharray="4,3.4"/>
<line x1="4" y1="587.8" x2="1127" y2="587.8" stroke="#111" stroke-width="1.5"/>
<line x1="4" y1="750.5" x2="1127" y2="750.5" stroke="#111" stroke-width="1.5"/>
<line x1="1040.5" y1="52" x2="1040.5" y2="755" stroke="#333" stroke-width="1.2"/>
<line x1="1040" y1="65" x2="1046" y2="65" stroke="#333" stroke-width="1.2"/>
<text x="1049" y="70.3" font-size="14.5" fill="#222">1.1256</text>
<line x1="1040" y1="150" x2="1046" y2="150" stroke="#333" stroke-width="1.2"/>
<text x="1049" y="155.3" font-size="14.5" fill="#222">1.1157</text>
<line x1="1040" y1="235" x2="1046" y2="235" stroke="#333" stroke-width="1.2"/>
<text x="1049" y="240.3" font-size="14.5" fill="#222">1.1058</text>
<line x1="1040" y1="320" x2="1046" y2="320" stroke="#333" stroke-width="1.2"/>
<text x="1049" y="325.3" font-size="14.5" fill="#222">1.0959</text>
<line x1="1040" y1="405" x2="1046" y2="405" stroke="#333" stroke-width="1.2"/>
<text x="1049" y="410.3" font-size="14.5" fill="#222">1.0860</text>
<line x1="1040" y1="490" x2="1046" y2="490" stroke="#333" stroke-width="1.2"/>
<text x="1049" y="495.3" font-size="14.5" fill="#222">1.0761</text>
<line x1="1040" y1="575" x2="1046" y2="575" stroke="#333" stroke-width="1.2"/>
<text x="1049" y="580.3" font-size="14.5" fill="#222">1.0662</text>
<line x1="1040" y1="652.5" x2="1046" y2="652.5" stroke="#333" stroke-width="1.2"/>
<text x="1049" y="657.8" font-size="14.5" fill="#222">0.0008</text>
<line x1="1040" y1="738" x2="1046" y2="738" stroke="#333" stroke-width="1.2"/>
<text x="1049" y="743.3" font-size="14.5" fill="#222">-0.0063</text>
<rect x="1042" y="255.5" width="85" height="22.3" fill="#f01a0a"/>
<line x1="1041" y1="267" x2="1047" y2="267" stroke="#fff" stroke-width="1.2"/>
<text x="1050" y="272" font-size="14.5" fill="#fff3e8">1.1020</text>
</svg>
<div class="tab act" style="left:4px;width:87px">日</div><div class="tab" style="left:91.5px;width:87.5px">周</div><div class="tab" style="left:179.0px;width:87.5px">月</div><div class="tab" style="left:266.5px;width:87.5px">5分</div><div class="tab" style="left:354.0px;width:87.5px">15分</div><div class="tab" style="left:441.5px;width:87.5px">30分</div><div class="tab" style="left:529.0px;width:87.5px">60分</div><div class="tab" style="left:616.5px;width:87.5px">4时</div>
<div class="lg" style="left:16.6px;top:65px;color:#222">开:</div><div class="lg" style="left:40.7px;top:65px;color:#c84a42">1.1019</div>
<div class="lg" style="left:106.3px;top:65px;color:#222">高:</div><div class="lg" style="left:129.6px;top:65px;color:#c84a42">1.1023</div>
<div class="lg" style="left:195.3px;top:65px;color:#222">低:</div><div class="lg" style="left:219.9px;top:65px;color:#c84a42">1.1017</div>
<div class="lg" style="left:285px;top:65px;color:#222">收:</div><div class="lg" style="left:308.7px;top:65px;color:#c84a42">1.1020</div>
<div class="lg" style="left:17.6px;top:88px;color:#d0608f">MA5:</div><div class="lg" style="left:65.9px;top:88px;color:#c8608a">1.1054</div>
<div class="lg" style="left:132.4px;top:88px;color:#3db6cc">MA10:</div><div class="lg" style="left:190px;top:88px;color:#3db6cc">1.1059</div>
<div class="lg" style="left:256.7px;top:88px;color:#a45cc0">MA20:</div><div class="lg" style="left:314.5px;top:88px;color:#9a5cb8">1.1086</div>
<div class="lg" style="left:17px;top:594px;color:#d2473f;font-size:15.8px">MACD:0.0000</div>
<div class="lg" style="left:132.2px;top:594px;color:#4a9ee0;font-size:15.8px">DIFF:0.0000</div>
<div class="lg" style="left:232.9px;top:594px;color:#e87a30;font-size:15.8px">DEA:0.0000</div>
</body></html>
